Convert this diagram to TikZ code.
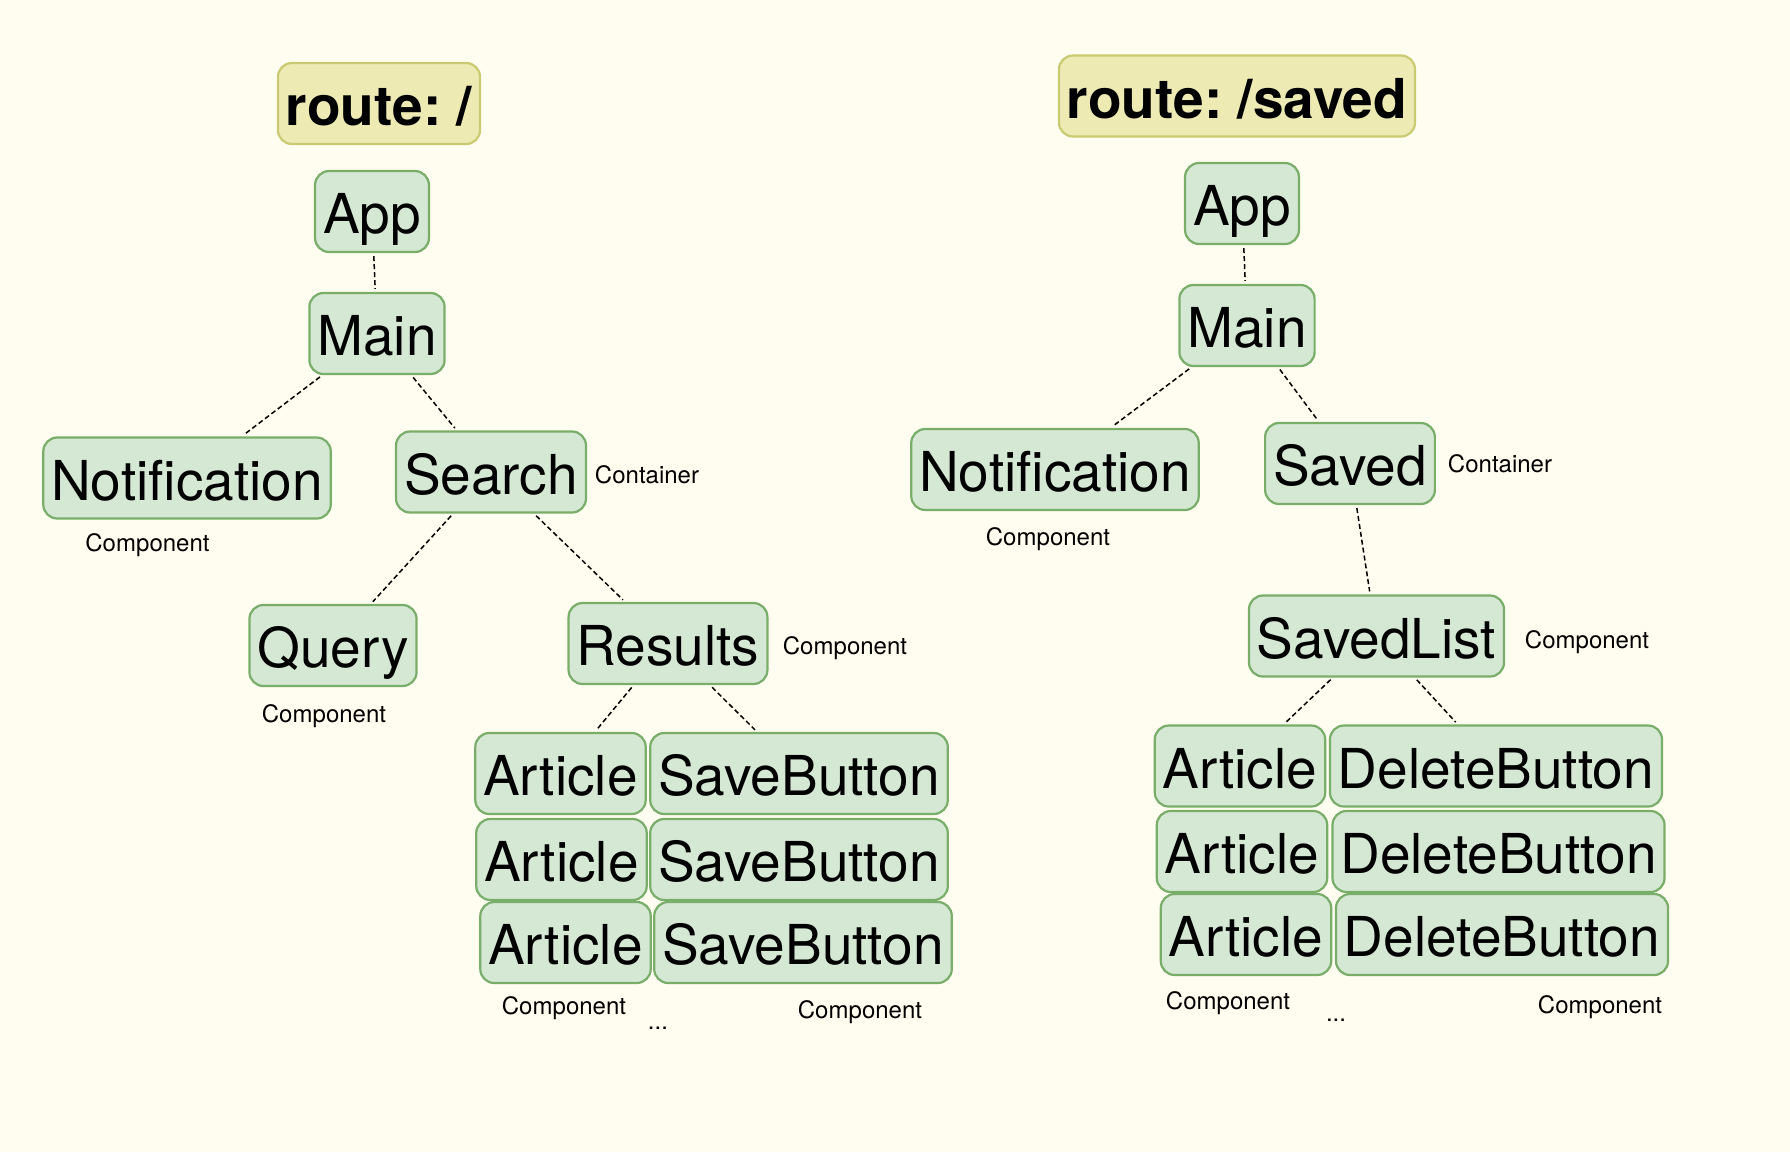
\documentclass[tikz,border=0pt]{standalone}
\usepackage{fontspec}
\setmainfont{TeX Gyre Heros}
\usepackage{xcolor}
\usepackage{tikz}
\usetikzlibrary{graphs}
\definecolor{paper}{HTML}{FFFCF0}
\definecolor{boxfill}{HTML}{D5E8D4}
\definecolor{boxline}{HTML}{78AD6A}
\definecolor{routefill}{HTML}{EDEBB3}
\definecolor{routeline}{HTML}{CACA72}
\tikzset{
box/.style={%
    rectangle,
    draw=boxline,
    fill=boxfill,
    line width=1.1pt,
    rounded corners=7pt,
    minimum height=40.5pt,
    inner xsep=4pt,
    text height=22pt,
    text depth=0pt,
    % Font
    font=\fontsize{27.5}{30}\selectfont
},
routebox/.style={%
    box, draw=routeline, fill=routefill,
    font=\fontsize{27.5}{30}\selectfont\bfseries\frenchspacing
},
tag/.style={%
    inner sep=0pt, text height=8.6pt, text depth=0pt,
    font=\fontsize{12}{14}\selectfont
},
link/.style={%
    draw=black, line width=0.75pt, dash pattern=on 2.5pt off 1.5pt,
    shorten <=1.5pt, shorten >=1.5pt
},
}

\begin{document}
\begin{tikzpicture}[x=0.5pt,y=-0.5pt]
	\useasboundingbox (0,0) rectangle (1790,1152);
	\fill[paper] (0,0) rectangle (1790,1152);

	% route: /
	\node[routebox] at (379,103.5) (routeL) {route: /};
	\node[box] at (372,211.5) (appL) {App};
	\node[box] at (377,333.5) (mainL) {Main};
	\node[box] at (187,478) (notifL) {Notification};
	\node[box] at (491,472) (searchL) {Search};
	\node[box] at (333,645.5) (queryL) {Query};
	\node[box] at (668,643.5) (resultsL) {Results};
	\node[box] at (560.5,773.5) (artL1) {Article};
	\node[box] at (799,773.5) (saveL1) {SaveButton};
	\node[box] at (561.5,859.5) (artL2) {Article};
	\node[box] at (799,859.5) (saveL2) {SaveButton};
	\node[box] at (565.5,942.5) (artL3) {Article};
	\node[box] at (803,942.5) (saveL3) {SaveButton};

	\node[tag] at (647,475) (searchTag) {Container};
	\node[tag] at (147.5,543) (notifLTag) {Component};
	\node[tag] at (324,714) (queryTag) {Component};
	\node[tag] at (845,646) (resultsTag) {Component};
	\node[tag] at (564,1005.5) (artLTag) {Component};
	\node[tag] at (860,1009.5) (saveTag) {Component};
	\node[tag] at (658,1021) (moreL) {...};

	% route: /saved
	\node[routebox] at (1237,96) (routeR) {route: /saved};
	\node[box] at (1242,203.5) (appR) {App};
	\node[box] at (1247,325.5) (mainR) {Main};
	\node[box] at (1055,469.5) (notifR) {Notification};
	\node[box] at (1350,463.5) (savedR) {Saved};
	\node[box] at (1376.5,636) (listR) {SavedList};
	\node[box] at (1240,766) (artR1) {Article};
	\node[box] at (1496,766) (delR1) {DeleteButton};
	\node[box] at (1242,851.5) (artR2) {Article};
	\node[box] at (1498.5,851.5) (delR2) {DeleteButton};
	\node[box] at (1246,934.5) (artR3) {Article};
	\node[box] at (1502,934.5) (delR3) {DeleteButton};

	\node[tag] at (1048,537) (notifRTag) {Component};
	\node[tag] at (1500,464) (savedTag) {Container};
	\node[tag] at (1587,639.5) (listTag) {Component};
	\node[tag] at (1228,1001) (artRTag) {Component};
	\node[tag] at (1600,1005) (delTag) {Component};
	\node[tag] at (1336,1013) (moreR) {...};

	\graph [use existing nodes, edges={link}] {
	appL -- mainL -- {notifL, searchL};
	searchL -- {queryL, resultsL};
	resultsL -- {artL1, saveL1};
	appR -- mainR -- {notifR, savedR};
	savedR -- listR -- {artR1, delR1};
	};

\end{tikzpicture}
\end{document}
